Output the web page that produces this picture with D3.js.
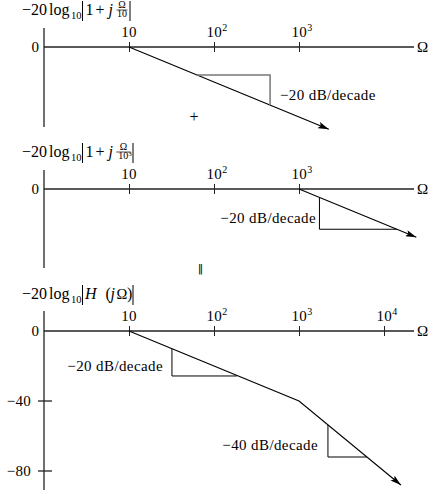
<!DOCTYPE html>
<html><head><meta charset="utf-8">
<script src="https://cdn.jsdelivr.net/npm/d3@7"></script>
<style>
html,body{margin:0;padding:0;background:#fff;}
svg{display:block;}
</style></head>
<body><svg id="c" width="430" height="492"></svg>
<script>
// ---- data ----
const tickValues1 = [10, 100, 1000];
const tickValues3 = [10, 100, 1000, 10000];
const tickExps = {10: "", 100: "2", 1000: "3", 10000: "4"};
const yTicks3 = [-40, -80];
// asymptote lines [Omega, dB]
const line1 = [[10, 0], [2240, -47]];
const line2 = [[1000, 0], [24000, -27.6]];
const line3 = [[10, 0], [1000, -40], [15800, -88]];
// slope triangles [Omega, dB]
const tri1 = [[63, -16], [457, -16], [457, -33.2]];
const tri2 = [[1740, -4.8], [1740, -23], [14100, -23]];
const tri3a = [[32, -10.1], [32, -25.7], [186, -25.7]];
const tri3b = [[2190, -53.6], [2190, -72], [6310, -72]];
const slopeLabels = ["\u221220 dB/decade", "\u221220 dB/decade", "\u221220 dB/decade", "\u221240 dB/decade"];

// ---- drawing ----
const FF = "Liberation Serif";
const FS = 15, LS = 0.4, TFS = 16;
const svg = d3.select("#c").attr("font-family", FF);
const x = d3.scaleLog().domain([1, 10000]).range([44, 384]);

const defs = svg.append("defs");
defs.append("marker").attr("id","arr").attr("viewBox","0 0 10 6").attr("refX",10).attr("refY",3)
  .attr("markerWidth",11).attr("markerHeight",6.5).attr("markerUnits","userSpaceOnUse").attr("orient","auto")
  .append("path").attr("d","M0,0L10,3L0,6L2,3Z").attr("fill","#000");

function txt(g){ return g.append("text").attr("font-family", FF); }

// parts placed at offsets (px) from the title's left edge
function mathLabel(g, x0, y0, parts){
  parts.forEach(p=>{
    const cx = x0 + p.at;
    if(p.bar){
      g.append("line").attr("x1",cx).attr("x2",cx).attr("y1",y0-14).attr("y2",y0+6)
        .attr("stroke","#000").attr("stroke-width",1);
      return;
    }
    if(p.frac){
      const fs = 10;
      const n = txt(g).attr("x",cx).attr("y",y0-7.5).attr("font-size",fs).attr("text-anchor","middle").text(p.frac[0]);
      const d = txt(g).attr("x",cx).attr("y",y0+2).attr("font-size",fs).attr("text-anchor","middle");
      d.append("tspan").text(p.frac[1]);
      if(p.frac[2]) d.append("tspan").attr("dy",-3.5).attr("font-size",7).text(p.frac[2]);
      const w = Math.max(n.node().getComputedTextLength(), d.node().getComputedTextLength());
      if(p.frac[2]) d.attr("x", cx + 1.5);
      g.append("line").attr("x1",cx-w/2-0.5).attr("x2",cx+w/2+0.5).attr("y1",y0-5).attr("y2",y0-5).attr("stroke","#000").attr("stroke-width",0.7);
      return;
    }
    txt(g).attr("x",cx).attr("y",y0+(p.dy||0)).attr("font-size",p.size||TFS)
      .attr("font-style",p.it?"italic":null).text(p.t);
  });
}

function panel(y0, axTop, axBot, ticks, title, lineData, tris){
  const y = d3.scaleLinear().domain([0, -80]).range([y0, y0 + 140]);
  const g = svg.append("g");
  // axes
  g.append("line").attr("x1",x(1)).attr("x2",x(1)).attr("y1",axTop).attr("y2",axBot).attr("stroke","#222").attr("stroke-width",1.3);
  g.append("line").attr("x1",x(1)).attr("x2",414).attr("y1",y0).attr("y2",y0).attr("stroke","#222").attr("stroke-width",1.3);
  const ax = g.append("g").attr("transform",`translate(0,${y0})`)
    .call(d3.axisTop(x).tickValues(ticks).tickSize(0).tickFormat(""));
  ax.select(".domain").remove();
  ax.selectAll(".tick line").attr("y1",-5).attr("y2",5).attr("stroke","#222");
  ticks.forEach(v=>{
    const t = txt(g).attr("x",x(v)).attr("y",y0-10).attr("font-size",FS).attr("letter-spacing",0.3).attr("text-anchor","middle");
    t.append("tspan").text("10");
    if(tickExps[v]){ t.append("tspan").attr("dy",-6).attr("font-size",10).text(tickExps[v]); t.attr("x", x(v)+3); }
  });
  txt(g).attr("x",417).attr("y",y0+5).attr("font-size",FS).text("\u03A9");
  txt(g).attr("x",39).attr("y",y0+5).attr("font-size",FS).attr("text-anchor","end").text("0");
  mathLabel(g, 22, y0-32, title);
  // asymptote
  const lg = d3.line().x(d=>x(d[0])).y(d=>y(d[1]));
  g.append("path").attr("d",lg(lineData)).attr("fill","none").attr("stroke","#000").attr("stroke-width",1.1).attr("marker-end","url(#arr)");
  tris.forEach(tr=>{
    g.append("path").attr("d",lg(tr.pts)).attr("fill","none").attr("stroke",tr.col||"#000").attr("stroke-width",tr.w||1);
    txt(g).attr("x",tr.lx).attr("y",tr.ly).attr("font-size",FS).attr("letter-spacing",LS).attr("text-anchor",tr.anchor).text(tr.label);
  });
  return {g, y};
}

const head = [{t:"\u221220",at:0},{t:"log",at:27},{t:"10",size:10.5,dy:3.5,at:49},{bar:true,at:60.5}];
const p1 = panel(47, 28, 127, tickValues1,
  head.concat([{t:"1",at:63.5},{t:"+",at:73.5},{t:"j",it:true,at:86.5},{frac:["\u03A9","10"],at:100},{bar:true,at:108}]),
  line1, [{pts:tri1, col:"#777", w:1.5, lx:280, ly:100, anchor:"start", label:slopeLabels[0]}]);
const p2 = panel(189, 170, 268, tickValues1,
  head.concat([{t:"1",at:63.5},{t:"+",at:73.5},{t:"j",it:true,at:86.5},{frac:["\u03A9","10","3"],at:101.5},{bar:true,at:111}]),
  line2, [{pts:tri2, lx:316, ly:223, anchor:"end", label:slopeLabels[1]}]);
const p3 = panel(331, 311, 490, tickValues3,
  head.concat([{t:"H",it:true,at:63},{t:"(",at:83.5},{t:"j",it:true,at:88.5},{t:"\u03A9",size:14.5,at:94.5},{t:")",at:105},{bar:true,at:111}]),
  line3, [{pts:tri3a, lx:163, ly:371, anchor:"end", label:slopeLabels[2]},
          {pts:tri3b, lx:318, ly:450, anchor:"end", label:slopeLabels[3]}]);
// y ticks panel 3
yTicks3.forEach(v=>{
  p3.g.append("line").attr("x1",38).attr("x2",52).attr("y1",p3.y(v)).attr("y2",p3.y(v)).attr("stroke","#222").attr("stroke-width",1.3);
  txt(p3.g).attr("x",31).attr("y",p3.y(v)+5).attr("font-size",FS).attr("letter-spacing",0.3).attr("text-anchor","end").text("\u2212"+(-v));
});
// separators between panels
txt(svg).attr("x",194).attr("y",122).attr("font-size",16).attr("text-anchor","middle").text("+");
svg.append("text").attr("x",200.5).attr("y",272).attr("font-size",11).attr("font-family","DejaVu Sans").attr("text-anchor","middle").text("\u2016");
</script></body></html>
